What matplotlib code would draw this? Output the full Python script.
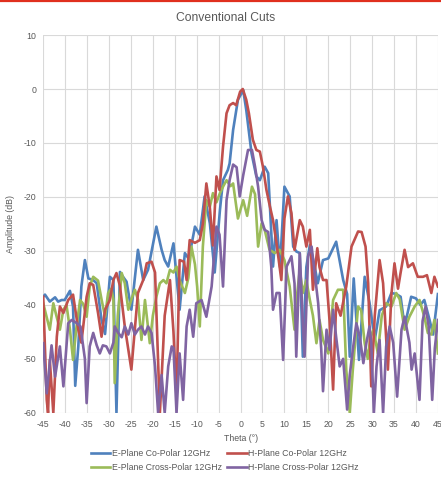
import matplotlib
matplotlib.use("Agg")
import matplotlib.pyplot as plt
from matplotlib.lines import Line2D

# E-Plane Co-Polar 12GHz
theta_e_co = [-45, -44.6, -43.5, -42.3, -41.6, -40.8, -40.1, -38.9, -38.2, -37.7, -37.0, -36.3,
              -35.5, -34.7, -33.6, -32.8, -31.7, -30.9, -29.8, -29.0, -28.3, -27.5, -26.8, -26.0,
              -24.9, -23.4, -22.2, -21.1, -19.2, -18.0, -17.3, -16.5, -15.3, -13.9, -12.7, -11.8,
              -10.4, -9.3, -8.2, -7.0, -5.9, -4.7, -4.0, -2.9, -2.5, -1.7, -0.6, 0.6, 1.3, 2.5,
              3.6, 4.4, 5.5, 6.3, 6.7, 7.4, 8.2, 9.0, 10.0, 11.2, 12.0, 12.7, 13.5, 14.2, 15.0,
              15.8, 16.9, 17.6, 18.8, 20.0, 21.8, 23.4, 24.3, 24.9, 25.8, 27.0, 28.3, 29.4, 30.6,
              31.7, 33.2, 34.4, 35.5, 36.5, 37.4, 38.9, 40.0, 41.0, 41.9, 43.1, 43.9, 45]
db_e_co = [-38.5, -38.1, -39.4, -38.6, -39.4, -39.1, -39.1, -37.4, -40.3, -55.0, -47.7, -36.6,
           -31.7, -35.1, -35.4, -36.0, -42.8, -45.4, -34.8, -35.4, -60.0, -33.9, -34.8, -35.7,
           -40.9, -29.8, -35.4, -33.5, -25.5, -29.8, -31.7, -32.9, -28.6, -40.9, -30.4, -31.5,
           -25.5, -27.0, -19.9, -24.9, -34.0, -22.4, -16.9, -15.0, -13.8, -7.6, -2.0, -0.2, -3.9, -11.9,
           -16.2, -16.9, -14.4, -15.6, -21.8, -32.9, -24.3, -33.0, -18.1, -19.9, -29.2, -30.1, -30.4, -49.6, -33.0,
           -28.9, -32.9, -36.0, -31.7, -31.4, -28.3, -35.4, -38.0, -49.6, -35.1, -50.2, -34.8, -39.6, -46.5,
           -41.0, -40.3, -37.8, -38.0, -38.5, -44.0, -38.5, -38.8, -40.0, -39.1, -42.8, -45.5, -38.0]

# H-Plane Co-Polar 12GHz
theta_h_co = [-45, -44.2, -43.9, -43.5, -42.7, -41.9, -41.2, -40.4, -39.3, -38.2, -37.0, -36.3,
              -35.1, -34.4, -33.6, -32.5, -31.7, -30.9, -29.8, -29.0, -28.3, -27.5, -26.4, -24.9,
              -23.4, -22.2, -21.4, -20.3, -19.5, -18.4, -17.3, -16.1, -15.3, -14.6, -13.9, -12.9,
              -12.3, -11.6, -10.4, -9.3, -8.6, -7.8, -7.0, -6.3, -5.5, -4.8, -4.0, -3.2, -2.5,
              -1.7, -1.0, -0.1, 0.5, 1.3, 1.9, 2.8, 3.6, 4.4, 5.1, 5.9, 6.7, 7.4, 8.2, 9.3, 10.0,
              10.8, 11.6, 12.3, 13.5, 14.2, 15.0, 15.8, 16.5, 17.5, 18.0, 18.8, 19.6, 20.3, 21.1,
              21.8, 22.8, 24.1, 25.3, 26.8, 27.6, 28.5, 29.1, 29.8, 30.6, 31.7, 32.5, 33.6, 34.4,
              35.1, 35.9, 36.5, 37.4, 38.2, 39.3, 40.4, 41.6, 42.5, 43.5, 44.2, 45]
db_h_co = [-38.5, -57.6, -60.0, -50.2, -60.0, -45.9, -40.3, -41.5, -39.1, -38.1, -44.6, -47.0,
           -38.5, -36.0, -36.3, -41.5, -45.9, -40.9, -39.1, -35.4, -34.1, -36.5, -44.0, -52.0,
           -37.8, -35.4, -32.3, -32.0, -34.0, -60.0, -42.0, -35.4, -45.0, -57.0, -31.7, -32.0,
           -35.4, -28.0, -28.5, -28.0, -25.0, -17.5, -22.0, -29.0, -16.2, -18.7, -10.7, -4.5, -3.0,
           -2.6, -3.0, -0.5, 0.0, -2.0, -4.5, -9.4, -11.3, -11.6, -14.4, -18.7, -21.8, -24.3, -28.6, -35.4, -24.0,
           -19.9, -23.0, -29.8, -24.3, -25.5, -29.2, -26.1, -37.2, -29.5, -33.0, -35.4, -35.4, -43.0, -55.7,
           -39.7, -42.0, -36.6, -29.2, -26.4, -26.5, -29.2, -36.0, -55.1, -42.0, -31.7, -36.0, -52.0, -38.0,
           -32.3, -37.0, -34.0, -29.8, -33.0, -32.3, -34.8, -34.8, -34.5, -37.8, -34.8, -36.6]

# E-Plane Cross-Polar 12GHz
theta_e_x = [-45, -44.3, -43.5, -42.7, -42.0, -41.2, -40.4, -39.7, -38.9, -38.2, -37.4, -36.6,
             -35.9, -35.1, -34.4, -33.6, -32.5, -31.7, -30.9, -30.2, -29.5, -29.0, -28.7, -28.0,
             -27.1, -26.4, -25.6, -24.9, -24.1, -23.4, -22.6, -21.8, -20.7, -20.0, -19.2, -18.4,
             -17.6, -16.9, -16.1, -15.3, -14.6, -13.9, -12.7, -11.9, -11.2, -10.4, -9.9, -9.3,
             -8.6, -7.8, -7.0, -6.3, -5.5, -4.7, -4.0, -3.2, -2.3, -1.7, -0.6, 0.6, 1.5, 2.6, 3.3,
             4.0, 4.8, 5.5, 6.6, 7.8, 8.9, 10.0, 11.2, 12.3, 12.9, 13.5, 14.2, 15.0, 15.8, 16.5,
             17.3, 18.0, 18.8, 20.0, 21.1, 22.2, 23.4, 24.1, 24.9, 25.6, 26.8, 27.5, 28.3, 29.0,
             29.6, 30.3, 31.3, 32.2, 33.2, 34.4, 35.5, 36.3, 37.4, 38.5, 39.7, 40.8, 41.9, 42.7,
             43.5, 44.2, 45]
db_e_x = [-39.7, -42.0, -44.6, -39.7, -42.0, -44.6, -40.9, -40.0, -44.6, -50.2, -44.0, -39.1,
          -39.8, -42.2, -36.6, -34.8, -35.5, -39.0, -42.2, -37.8, -37.0, -39.0, -54.5, -42.0,
          -34.1, -36.0, -40.9, -39.0, -37.2, -39.0, -46.5, -39.1, -47.1, -42.0, -38.5, -36.0,
          -35.4, -36.0, -33.5, -34.0, -32.9, -35.4, -37.8, -35.0, -29.2, -32.5, -36.6, -44.0,
          -29.2, -20.6, -21.8, -19.3, -21.0, -19.3, -18.1, -16.9, -18.0, -17.5, -24.0, -20.6, -23.5, -18.1, -19.5,
          -29.2, -24.9, -26.1, -29.8, -30.4, -29.8, -31.7, -36.6, -44.6, -38.0, -33.5, -37.8, -35.4, -39.1, -42.0,
          -47.1, -42.8, -46.5, -49.0, -39.1, -37.2, -37.2, -52.0, -60.0, -52.0, -40.3, -41.0, -47.1, -50.0,
          -46.0, -44.6, -49.0, -42.0, -39.7, -40.3, -37.8, -39.0, -44.6, -42.2, -40.3, -39.1, -42.2, -45.2,
          -45.5, -42.8, -49.0]

# H-Plane Cross-Polar 12GHz
theta_h_x = [-45, -44.2, -43.1, -42.3, -41.2, -40.4, -39.3, -38.5, -37.5, -36.5, -35.5, -35.1,
             -34.4, -33.6, -32.8, -32.1, -31.4, -30.6, -29.8, -29.0, -28.7, -27.9, -27.1, -26.4,
             -25.6, -24.9, -24.1, -23.4, -22.6, -21.8, -21.1, -20.3, -19.5, -18.8, -18.0, -17.3,
             -16.5, -15.7, -15.3, -14.6, -13.9, -13.1, -12.3, -11.6, -10.8, -10.1, -8.9, -7.8,
             -6.6, -5.5, -4.8, -4.0, -3.2, -2.5, -1.7, -0.9, -0.2, 0.6, 1.7, 2.6, 3.3, 4.0, 4.8,
             5.5, 6.3, 7.0, 7.4, 8.2, 8.9, 9.7, 10.5, 11.6, 12.3, 12.7, 13.5, 14.2, 14.6, 15.4,
             16.2, 16.9, 17.7, 18.4, 18.8, 19.6, 20.3, 21.1, 21.8, 22.6, 23.4, 24.3, 24.9, 25.6,
             26.4, 27.2, 28.0, 28.7, 29.4, 29.8, 30.4, 31.0, 31.7, 32.5, 33.2, 34.0, 34.8, 35.7,
             36.7, 37.4, 38.5, 39.0, 39.7, 40.8, 41.5, 42.2, 42.9, 43.7, 44.3, 45]
db_h_x = [-47.1, -56.4, -47.5, -53.3, -47.7, -55.1, -43.4, -42.8, -43.3, -44.0, -50.0, -58.2,
          -47.7, -45.2, -47.5, -49.0, -47.5, -47.7, -49.0, -47.0, -44.0, -45.2, -46.0, -44.0,
          -45.5, -43.4, -45.5, -44.6, -44.0, -45.5, -44.0, -45.2, -51.4, -60.0, -53.0, -60.0,
          -51.4, -47.7, -48.0, -60.0, -49.0, -57.6, -44.0, -40.9, -45.9, -39.7, -39.1, -42.2,
          -36.6, -25.5, -27.0, -36.6, -20.6, -16.9, -14.0, -14.5, -19.9, -16.0, -11.3, -11.3, -14.4, -18.1, -24.3,
          -26.1, -26.5, -32.9, -40.9, -37.8, -37.8, -50.2, -32.9, -31.0, -36.0, -49.6, -30.5, -43.4, -49.6, -31.0,
          -29.2, -34.1, -39.7, -48.3, -56.0, -44.6, -48.3, -40.9, -46.0, -51.4, -50.0, -59.4, -53.0, -48.3,
          -43.4, -46.0, -50.8, -47.0, -44.0, -47.0, -60.0, -51.4, -46.5, -60.0, -47.7, -44.0, -47.0, -57.0,
          -44.6, -42.2, -47.0, -52.0, -49.0, -57.6, -43.0, -40.3, -44.0, -57.6, -48.0, -42.8]

series = [
    (theta_e_co, db_e_co, "E-Plane Co-Polar 12GHz", "#4F81BD"),
    (theta_e_x, db_e_x, "E-Plane Cross-Polar 12GHz", "#9BBB59"),
    (theta_h_co, db_h_co, "H-Plane Co-Polar 12GHz", "#C0504D"),
    (theta_h_x, db_h_x, "H-Plane Cross-Polar 12GHz", "#8064A2"),
]

plt.rcParams['font.family'] = ['Liberation Sans', 'DejaVu Sans']
plt.rcParams['axes.unicode_minus'] = False
txt = '#595959'

fig = plt.figure(figsize=(4.41, 4.80), dpi=100)
ax = fig.add_axes([0.098, 0.14, 0.895, 0.787])

# draw order: blue, red, green, purple like the original
for i in [0, 2, 1, 3]:
    th, db, name, col = series[i]
    ax.plot(th, db, color=col, lw=1.9, solid_joinstyle='round', label=name, zorder=3 + i)

ax.set_xlim(-45, 45)
ax.set_ylim(-60, 10)
ax.set_xticks(range(-45, 46, 5))
ax.set_yticks(range(-60, 11, 10))
ax.grid(True, color='#D9D9D9', lw=0.8)
ax.set_axisbelow(True)
for s in ax.spines.values():
    s.set_visible(False)
ax.tick_params(length=0, labelsize=6.3, colors=txt, pad=5)
ax.set_xlabel("Theta (°)", fontsize=6.3, color=txt, labelpad=4)
ax.set_ylabel("Amplitude (dB)", fontsize=6.3, color=txt, labelpad=6)
fig.text(0.512, 0.963, "Conventional Cuts", fontsize=8.7, color=txt, ha='center', va='center')

handles = [Line2D([0], [0], color=c, lw=1.9) for _, _, _, c in series]
labels = [n for _, _, n, _ in series]
fig.legend(handles, labels, loc='center', bbox_to_anchor=(0.51, 0.04), ncol=2,
           frameon=False, fontsize=6.3, labelcolor=txt, handlelength=2.2,
           handletextpad=0.2, columnspacing=0.6, labelspacing=0.6)

# red strip along the top edge
fig.add_artist(Line2D([0, 1], [0.998, 0.998], color='#E0301E', lw=1.6, transform=fig.transFigure))

fig.savefig("out.png", dpi=100)
